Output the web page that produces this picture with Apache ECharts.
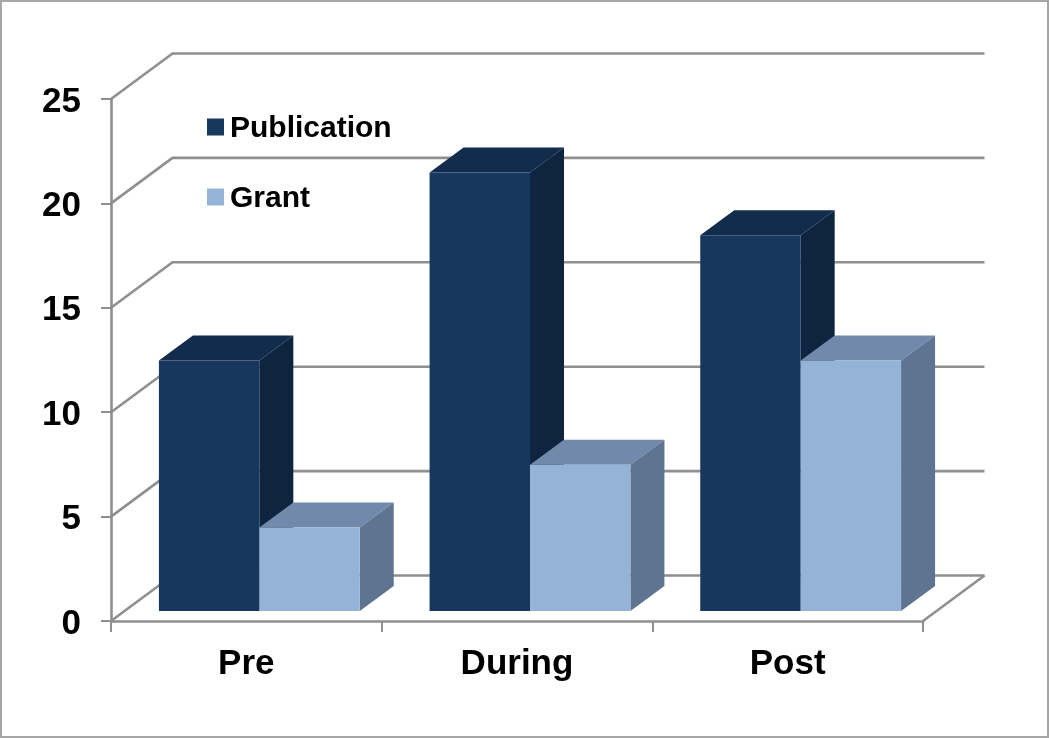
<!DOCTYPE html>
<html>
<head>
<meta charset="utf-8">
<style>
  html, body { margin: 0; padding: 0; background: #fff; }
  #chart { width: 1050px; height: 738px; }
</style>
</head>
<body>
<div id="chart"></div>
<script src="https://cdn.jsdelivr.net/npm/echarts@6/dist/echarts.min.js"></script>
<script>
const categories = ["Pre", "During", "Post"];
const publication = [12, 21, 18];
const grant = [4, 7, 12];
const yTicks = [0, 5, 10, 15, 20, 25];

const lineColor = "#8f8f8f";
// 伪3D偏移量（像素）
const wall = { dx: 61.5, dy: -45.5 };
const depth = { dx: 34, dy: -25 };
const base = { dx: 13, dy: -10 };
const barRatio = 0.371;

const chart = echarts.init(document.getElementById("chart"));

// 背景墙的线：左侧斜线 + 后墙横线
function renderWall(params, api) {
  const y = api.coord([0, api.value(0)])[1];
  const grid = params.coordSys;
  const x0 = grid.x;
  const x1 = grid.x + grid.width;
  const children = [{
    type: "polyline",
    shape: { points: [[x0, y], [x0 + wall.dx, y + wall.dy], [x1 + wall.dx, y + wall.dy]] },
    style: { stroke: lineColor, lineWidth: 2.6, fill: null },
  }];
  if (api.value(0) === 0) {
    children.push({
      type: "line",
      shape: { x1: x1, y1: y, x2: x1 + wall.dx, y2: y + wall.dy },
      style: { stroke: lineColor, lineWidth: 2.6 },
    });
  }
  return { type: "group", children: children };
}

// 立体柱子，colors = [正面, 顶面, 侧面]，side: -1 左柱 / 0 右柱
function barRenderer(colors, side) {
  return function (params, api) {
    const cat = api.value(0);
    const top = api.coord([cat, api.value(1)]);
    const bottom = api.coord([cat, 0]);
    const w = api.size([1, 0])[0] * barRatio;
    const x = top[0] + base.dx + side * w;
    const yTop = top[1] + base.dy;
    const yBottom = bottom[1] + base.dy;
    return {
      type: "group",
      children: [
        {
          type: "polygon",
          shape: { points: [[x, yTop], [x + depth.dx, yTop + depth.dy], [x + w + depth.dx, yTop + depth.dy], [x + w, yTop]] },
          style: { fill: colors[1] },
        },
        {
          type: "polygon",
          shape: { points: [[x + w, yTop], [x + w + depth.dx, yTop + depth.dy], [x + w + depth.dx, yBottom + depth.dy], [x + w, yBottom]] },
          style: { fill: colors[2] },
        },
        {
          type: "rect",
          shape: { x: x, y: yTop, width: w, height: yBottom - yTop },
          style: { fill: colors[0] },
        },
      ],
    };
  };
}

const option = {
  animation: false,
  backgroundColor: "#fff",
  textStyle: { fontFamily: "Liberation Sans" },
  graphic: [{
    type: "rect",
    shape: { x: 1, y: 1, width: 1047, height: 736 },
    style: { fill: null, stroke: "#a6a6a6", lineWidth: 2 },
  }],
  grid: { left: 111, right: 127, top: 99, bottom: 117 },
  legend: {
    left: 202,
    top: 109,
    orient: "vertical",
    icon: "rect",
    itemWidth: 17,
    itemHeight: 17,
    itemGap: 40,
    formatter: "{a|{name}}",
    textStyle: {
      rich: {
        a: { color: "#000", fontSize: 30, fontWeight: "bold", fontFamily: "Liberation Sans", padding: [4, 0, 0, 1] },
      },
    },
    data: ["Publication", "Grant"],
  },
  xAxis: {
    type: "category",
    data: categories,
    axisLine: { show: true, lineStyle: { color: lineColor, width: 2.6 } },
    axisTick: { show: true, length: 11, lineStyle: { color: lineColor, width: 2 } },
    axisLabel: { color: "#000", fontSize: 35, fontWeight: "bold", margin: 26, fontFamily: "Liberation Sans" },
    splitLine: { show: false },
  },
  yAxis: {
    type: "value",
    min: 0,
    max: 25,
    interval: 5,
    axisLine: { show: true, lineStyle: { color: lineColor, width: 2.6 } },
    axisTick: { show: true, length: 10, lineStyle: { color: lineColor, width: 2 } },
    axisLabel: { color: "#000", fontSize: 35, fontWeight: "bold", margin: 30, verticalAlign: "top", lineHeight: 6, fontFamily: "Liberation Sans" },
    splitLine: { show: false },
  },
  series: [
    {
      name: "wall",
      type: "custom",
      silent: true,
      z: 1,
      renderItem: renderWall,
      encode: { y: 0 },
      data: yTicks.map((v) => [v]),
    },
    {
      name: "Publication",
      type: "custom",
      z: 2,
      itemStyle: { color: "#17375e" },
      renderItem: barRenderer(["#17375e", "#122c4d", "#0f243e"], -1),
      encode: { x: 0, y: 1 },
      data: publication.map((v, i) => [i, v]),
    },
    {
      name: "Grant",
      type: "custom",
      z: 3,
      itemStyle: { color: "#95b3d7" },
      renderItem: barRenderer(["#95b3d7", "#7189aa", "#5f7490"], 0),
      encode: { x: 0, y: 1 },
      data: grant.map((v, i) => [i, v]),
    },
  ],
};

chart.setOption(option);
window.addEventListener("resize", function () {
  chart.resize();
});
</script>
</body>
</html>
